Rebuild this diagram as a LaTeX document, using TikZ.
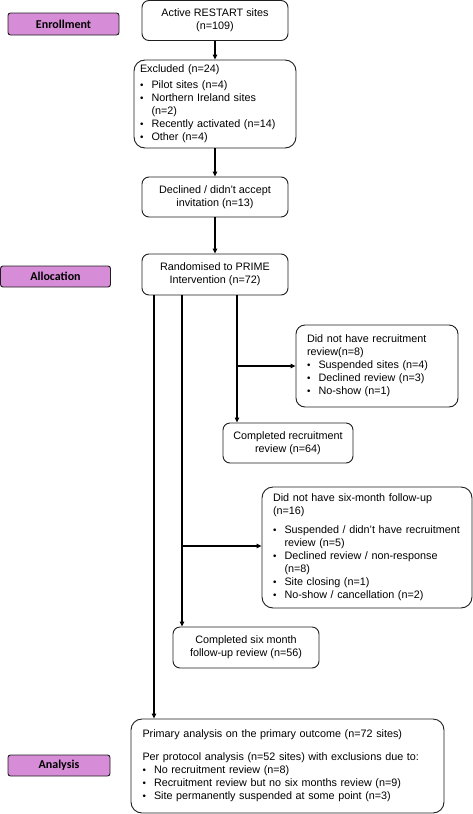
\documentclass[tikz,border=0pt]{standalone}
\usepackage{fontspec}
\setmainfont{Liberation Sans}
\newfontfamily\labfont{Carlito}
\usetikzlibrary{arrows.meta}
\definecolor{labfill}{RGB}{214,140,214}
\definecolor{edge}{RGB}{30,30,30}
\newcommand{\bl}[1]{\makebox[11.5pt][l]{\raisebox{0.3pt}{\scalebox{0.9}{•}}}#1}
\newcommand{\ind}{\hspace*{11.5pt}}
\begin{document}
\begin{tikzpicture}[x=1pt,y=-1pt,
  box/.style={draw=edge,line width=0.9pt,rounded corners=7pt,fill=white,
    inner sep=0pt,font=\fontsize{10.8}{13}\selectfont,align=center},
  lbox/.style={box,align=left},
  phase/.style={draw=edge,line width=0.9pt,rounded corners=2.5pt,fill=labfill,
    inner sep=0pt,font=\labfont\bfseries\fontsize{12}{14}\selectfont},
  arr/.style={line width=1.2pt,-{Triangle[length=5pt,width=4.5pt]}}]
\useasboundingbox (0,0) rectangle (473,814);
% phase labels
\node[phase,minimum width=111pt,minimum height=22pt] (enr) at (63.5,24) {Enrollment};
\node[phase,minimum width=110pt,minimum height=21pt] (alloc) at (55.5,276.5) {Allocation};
\node[phase,minimum width=102pt,minimum height=21pt] (ana) at (59,765.5) {Analysis};
% main boxes
\node[box,minimum width=146pt,minimum height=40pt] (act) at (215,20.5) {Active RESTART sites\\(n=109)};
\node[lbox,rounded corners=11pt,minimum width=162pt,minimum height=88pt,text width=150pt] (exc) at (215,104)
  {Excluded (n=24)\\[3pt]
   \bl{Pilot sites (n=4)}\\
   \bl{Northern Ireland sites}\\
   \ind(n=2)\\
   \bl{Recently activated (n=14)}\\
   \bl{Other (n=4)}};
\node[box,minimum width=146pt,minimum height=40pt] (dec) at (215,197) {Declined / didn't accept\\invitation (n=13)};
\node[box,minimum width=146pt,minimum height=41pt] (rand) at (215,274.5) {Randomised to PRIME\\Intervention (n=72)};
\node[lbox,rounded corners=9pt,minimum width=162pt,minimum height=82pt,text width=140pt] (dnr) at (377,366)
  {Did not have recruitment\\review(n=8)\\
   \bl{Suspended sites (n=4)}\\
   \bl{Declined review (n=3)}\\
   \bl{No-show (n=1)}};
\node[box,minimum width=130pt,minimum height=40pt] (crr) at (288,443) {Completed recruitment\\review (n=64)};
\node[lbox,rounded corners=11pt,minimum width=210pt,minimum height=121pt,text width=188pt] (dns) at (367,547.5)
  {Did not have six-month follow-up\\(n=16)\\[6pt]
   \bl{Suspended / didn't have recruitment}\\
   \ind review (n=5)\\
   \bl{Declined review / non-response}\\
   \ind(n=8)\\
   \bl{Site closing (n=1)}\\
   \bl{No-show / cancellation (n=2)}};
\node[box,minimum width=146pt,minimum height=41pt] (csm) at (246,647.5) {Completed six month\\follow-up review (n=56)};
\node[lbox,rounded corners=11pt,minimum width=313pt,minimum height=94pt,text width=290pt] (prim) at (287.5,766)
  {Primary analysis on the primary outcome (n=72 sites)\\[10pt]
   Per protocol analysis (n=52 sites) with exclusions due to:\\
   \bl{No recruitment review (n=8)}\\
   \bl{Recruitment review but no six months review (n=9)}\\
   \bl{Site permanently suspended at some point (n=3)}\\[5pt]};
% connector anchors
\coordinate (x1) at (154,0);
\coordinate (x2) at (182,0);
\coordinate (x3) at (237,0);
\coordinate (b1) at (0,366);
\coordinate (b2) at (0,546);
% connectors
\draw[arr] (act) -- (exc);
\draw[arr] (exc) -- (dec);
\draw[arr] (dec) -- (rand);
\draw[arr] (x3 |- rand.south) -- (x3 |- crr.north);
\draw[arr] (x3 |- b1) -- (dnr.west |- b1);
\draw[arr] (x2 |- rand.south) -- (x2 |- csm.north);
\draw[arr] (x2 |- b2) -- (dns.west |- b2);
\draw[arr] (x1 |- rand.south) -- (x1 |- prim.north);
\end{tikzpicture}
\end{document}
